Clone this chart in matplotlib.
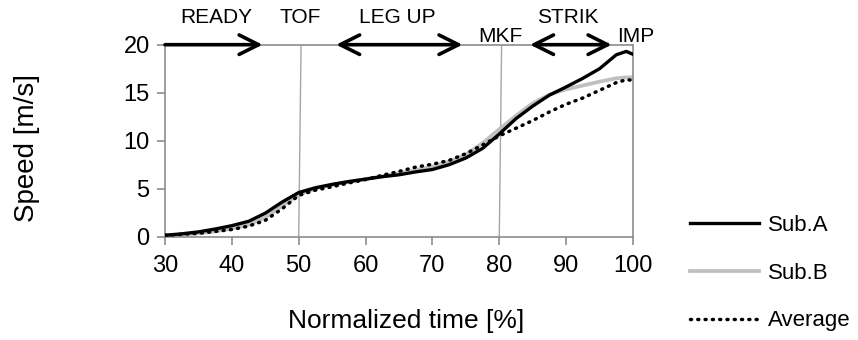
import matplotlib.pyplot as plt

plt.rcParams['font.family'] = ['Liberation Sans', 'DejaVu Sans']

# normalized time [%]
time_pct = [30, 32.5, 35, 37.5, 40, 42.5, 45, 47.5, 50, 52.5, 55, 57.5, 60, 62.5, 65,
            67.5, 70, 72.5, 75, 77.5, 80, 82.5, 85, 87.5, 90, 92.5, 95, 97.5, 99, 100]

# speed [m/s]
sub_a = [0.15, 0.3, 0.5, 0.8, 1.15, 1.6, 2.45, 3.6, 4.6, 5.1, 5.45, 5.75, 6.0, 6.25, 6.45,
         6.75, 7.0, 7.5, 8.2, 9.2, 10.7, 12.3, 13.6, 14.75, 15.6, 16.5, 17.5, 18.95, 19.3, 19.0]
sub_b = [0.1, 0.2, 0.35, 0.55, 0.85, 1.25, 2.0, 3.2, 4.4, 5.0, 5.4, 5.7, 6.0, 6.3, 6.6,
         6.95, 7.3, 7.8, 8.55, 9.75, 11.2, 12.6, 13.9, 14.8, 15.35, 15.75, 16.15, 16.5, 16.6, 16.6]
average = [0.15, 0.25, 0.35, 0.55, 0.75, 1.1, 1.7, 2.9, 4.3, 4.85, 5.2, 5.6, 5.95, 6.4, 6.8,
           7.25, 7.55, 7.95, 8.65, 9.55, 10.5, 11.3, 12.1, 13.0, 13.8, 14.45, 15.25, 16.05, 16.35, 16.3]

# phase labels and arrows
phase_labels = ['READY', 'TOF', 'LEG UP', 'MKF', 'STRIK', 'IMP']
phase_label_x = [37.6, 50.2, 64.8, 80.2, 90.2, 100.4]
phase_label_y = [22.8, 22.8, 22.8, 20.9, 22.8, 20.9]
event_lines = [50, 80]

fig = plt.figure(figsize=(8.58, 3.4), dpi=100)
ax = fig.add_axes([165 / 858, 1 - 236.7 / 340, (633 - 165) / 858, (236.7 - 44.7) / 340])

gray = '#8c8c8c'
for xe in event_lines:
    ax.plot([xe + 0.35, xe], [20, 0], color='#a6a6a6', lw=1.0, zorder=1)

ax.plot(time_pct, sub_a, color='black', lw=2.4, label='Sub.A', zorder=3)
ax.plot(time_pct, sub_b, color='#c0c0c0', lw=2.7, label='Sub.B', zorder=2)
ax.plot(time_pct, average, color='black', lw=2.5, linestyle=(0, (0.3, 1.8)),
        dash_capstyle='round', label='Average', zorder=4)

ax.set_xlim(30, 100)
ax.set_ylim(0, 20)
ax.set_xticks(range(30, 101, 10))
ax.set_yticks(range(0, 21, 5))
for sp in ax.spines.values():
    sp.set_color(gray)
    sp.set_linewidth(1.2)
ax.tick_params(colors=gray, labelcolor='black', labelsize=17, length=6, width=1.2)
ax.tick_params(axis='x', pad=7)
ax.tick_params(axis='y', pad=5)

ax.set_xlabel('Normalized time [%]', fontsize=19)
ax.xaxis.set_label_coords(0.515, -0.44)
ax.xaxis.label.set_va('center')
ax.set_ylabel('Speed [m/s]', fontsize=20)
ax.yaxis.set_label_coords(-0.294, 0.46)
ax.yaxis.label.set_va('center')

# phase arrows along the top
arrow_kw = dict(lw=2.6, color='black', mutation_scale=10, shrinkA=0, shrinkB=0)
ax.annotate('', xy=(44.6, 20), xytext=(30, 20), annotation_clip=False,
            arrowprops=dict(arrowstyle='->,head_length=1.4,head_width=0.7', **arrow_kw))
ax.annotate('', xy=(74.5, 20), xytext=(55.6, 20), annotation_clip=False,
            arrowprops=dict(arrowstyle='<->,head_length=1.4,head_width=0.7', **arrow_kw))
ax.annotate('', xy=(96.8, 20), xytext=(84.6, 20), annotation_clip=False,
            arrowprops=dict(arrowstyle='<->,head_length=1.4,head_width=0.7', **arrow_kw))

for lab, lx, ly in zip(phase_labels, phase_label_x, phase_label_y):
    ax.text(lx, ly, lab, ha='center', va='center', fontsize=15, clip_on=False)

fig.legend(loc='upper left', bbox_to_anchor=(690 / 858, 1 - 215 / 340), frameon=False,
           fontsize=16, handlelength=3.1, handletextpad=0.4, labelspacing=1.2,
           borderpad=0, borderaxespad=0)

fig.savefig('out.png', dpi=100)
